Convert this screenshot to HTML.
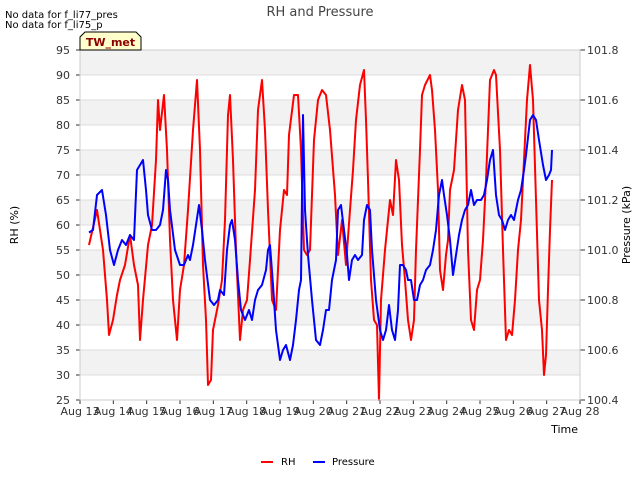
<!DOCTYPE html>
<html><head><meta charset="utf-8"><style>
body{margin:0;background:#fff;font-family:"Liberation Sans","DejaVu Sans",sans-serif;}
svg text{font-family:"DejaVu Sans","Liberation Sans",sans-serif;}
</style></head><body>
<svg id="chart" width="640" height="480" xmlns="http://www.w3.org/2000/svg">
<text x="5" y="18" font-size="10">No data for f_li77_pres</text>
<text x="5" y="28" font-size="10">No data for f_li75_p</text>
<text x="320" y="16" font-size="13" fill="#444" text-anchor="middle">RH and Pressure</text>
<g id="grid"></g>
<g id="series"></g>
<g id="axes"></g>
<path d="M80,50 L80,37 L85,32 L136,32 L141,37 L141,50 Z" fill="#ffffcc" stroke="#000" stroke-width="1"/>
<text x="110.5" y="46" font-size="11" font-weight="bold" fill="#8b0000" text-anchor="middle">TW_met</text>
<text transform="translate(18,225) rotate(-90)" font-size="11" text-anchor="middle">RH (%)</text>
<text transform="translate(630,225) rotate(-90)" font-size="11" text-anchor="middle">Pressure (kPa)</text>
<text x="578" y="433" font-size="11" text-anchor="end">Time</text>
<g>
<line x1="261" y1="462" x2="273" y2="462" stroke="#f00" stroke-width="2"/>
<text x="281" y="465" font-size="10">RH</text>
<line x1="313" y1="462" x2="325" y2="462" stroke="#00f" stroke-width="2"/>
<text x="332" y="465" font-size="10">Pressure</text>
</g>
</svg>
<script>
const xTickLabels=["Aug 13","Aug 14","Aug 15","Aug 16","Aug 17","Aug 18","Aug 19","Aug 20","Aug 21","Aug 22","Aug 23","Aug 24","Aug 25","Aug 26","Aug 27","Aug 28"];
const rhTicks=[25,30,35,40,45,50,55,60,65,70,75,80,85,90,95];
const pTicks=[100.4,100.6,100.8,101.0,101.2,101.4,101.6,101.8];
const rhData=[[0.27,56],[0.51,63],[0.69,55],[0.81,45],[0.87,38],[0.99,41],[1.11,46],[1.2,49],[1.35,52],[1.5,58],[1.62,52],[1.74,48],[1.8,37],[1.89,45],[2.04,56],[2.16,60],[2.28,73],[2.34,85],[2.4,79],[2.52,86],[2.61,75],[2.7,57],[2.79,45],[2.91,37],[3.0,47],[3.12,52],[3.24,63],[3.39,79],[3.51,89],[3.6,75],[3.69,52],[3.78,41],[3.84,28],[3.93,29],[3.99,39],[4.14,44],[4.26,49],[4.35,61],[4.44,82],[4.5,86],[4.59,73],[4.68,55],[4.8,37],[4.89,43],[5.01,45],[5.1,53],[5.25,67],[5.34,83],[5.46,89],[5.55,79],[5.64,63],[5.76,45],[5.88,43],[6.0,59],[6.12,67],[6.21,66],[6.27,78],[6.42,86],[6.54,86],[6.63,75],[6.72,55],[6.81,54],[6.9,55],[7.02,77],[7.14,85],[7.26,87],[7.38,86],[7.5,79],[7.65,66],[7.74,54],[7.86,61],[7.98,52],[8.1,63],[8.19,71],[8.28,81],[8.4,88],[8.52,91],[8.58,81],[8.64,69],[8.73,49],[8.82,41],[8.91,40],[8.97,25],[9.03,45],[9.15,55],[9.3,65],[9.39,62],[9.48,73],[9.57,69],[9.66,56],[9.75,49],[9.84,41],[9.93,37],[10.02,41],[10.08,55],[10.2,75],[10.26,86],[10.35,88],[10.5,90],[10.56,87],[10.65,79],[10.74,67],[10.8,51],[10.89,47],[10.98,54],[11.04,57],[11.1,67],[11.22,71],[11.34,83],[11.46,88],[11.55,85],[11.64,55],[11.73,41],[11.82,39],[11.91,47],[12.0,49],[12.09,57],[12.18,69],[12.3,89],[12.42,91],[12.48,90],[12.6,75],[12.69,55],[12.78,37],[12.87,39],[12.96,38],[13.05,45],[13.14,55],[13.23,61],[13.32,73],[13.41,85],[13.5,92],[13.59,85],[13.68,65],[13.77,45],[13.86,39],[13.92,30],[13.98,34],[14.04,47],[14.1,59],[14.16,69]];
const pData=[[0.27,101.07],[0.39,101.08],[0.51,101.22],[0.66,101.24],[0.78,101.14],[0.9,101.0],[1.02,100.94],[1.14,101.0],[1.26,101.04],[1.38,101.02],[1.5,101.06],[1.62,101.04],[1.71,101.32],[1.8,101.34],[1.89,101.36],[1.98,101.24],[2.04,101.14],[2.16,101.08],[2.28,101.08],[2.4,101.1],[2.49,101.16],[2.58,101.32],[2.64,101.28],[2.7,101.16],[2.85,101.0],[3.0,100.94],[3.12,100.94],[3.24,100.98],[3.3,100.96],[3.39,101.02],[3.48,101.1],[3.57,101.18],[3.66,101.08],[3.75,100.96],[3.9,100.8],[4.02,100.78],[4.14,100.8],[4.2,100.84],[4.32,100.82],[4.41,101.0],[4.5,101.1],[4.56,101.12],[4.65,101.04],[4.74,100.88],[4.83,100.76],[4.95,100.72],[5.07,100.76],[5.16,100.72],[5.25,100.8],[5.34,100.84],[5.46,100.86],[5.58,100.92],[5.64,101.0],[5.7,101.02],[5.79,100.86],[5.88,100.68],[6.0,100.56],[6.09,100.6],[6.18,100.62],[6.3,100.56],[6.39,100.62],[6.48,100.72],[6.57,100.84],[6.63,100.88],[6.69,101.54],[6.75,101.16],[6.84,100.98],[6.96,100.8],[7.08,100.64],[7.2,100.62],[7.29,100.68],[7.38,100.76],[7.47,100.76],[7.56,100.88],[7.68,100.96],[7.74,101.16],[7.83,101.18],[7.92,101.08],[8.01,100.98],[8.07,100.88],[8.16,100.96],[8.25,100.98],[8.34,100.96],[8.46,100.98],[8.52,101.12],[8.61,101.18],[8.7,101.16],[8.76,101.0],[8.88,100.8],[9.0,100.68],[9.09,100.64],[9.18,100.68],[9.27,100.78],[9.36,100.68],[9.45,100.64],[9.54,100.76],[9.6,100.94],[9.69,100.94],[9.78,100.92],[9.84,100.88],[9.93,100.88],[10.02,100.8],[10.11,100.8],[10.2,100.86],[10.29,100.88],[10.38,100.92],[10.5,100.94],[10.59,101.0],[10.68,101.08],[10.77,101.22],[10.86,101.28],[10.92,101.22],[11.01,101.14],[11.1,101.04],[11.19,100.9],[11.28,100.98],[11.37,101.06],[11.46,101.12],[11.55,101.16],[11.64,101.18],[11.73,101.24],[11.82,101.18],[11.91,101.2],[12.03,101.2],[12.12,101.22],[12.21,101.28],[12.3,101.36],[12.39,101.4],[12.48,101.22],[12.57,101.14],[12.66,101.12],[12.75,101.08],[12.84,101.12],[12.93,101.14],[13.02,101.12],[13.14,101.2],[13.23,101.24],[13.32,101.32],[13.38,101.38],[13.5,101.52],[13.59,101.54],[13.68,101.52],[13.77,101.44],[13.89,101.34],[13.98,101.28],[14.07,101.3],[14.13,101.32],[14.16,101.4]];

const L=80,R=580,T=50,B=400;
const xs=d=>L+(d/15)*(R-L);
const yL=v=>B-(v-25)/(95-25)*(B-T);
const yR=v=>B-(v-100.4)/(101.8-100.4)*(B-T);
const NS="http://www.w3.org/2000/svg";
function mk(tag,attrs,parent){const e=document.createElementNS(NS,tag);for(const k in attrs)e.setAttribute(k,attrs[k]);parent.appendChild(e);return e;}
const grid=document.getElementById('grid'),axes=document.getElementById('axes'),series=document.getElementById('series');
for(let i=0;i<rhTicks.length-1;i++){
  if((rhTicks.length-2-i)%2===0){
    const r=mk('rect',{x:L,y:yL(rhTicks[i+1]),width:R-L,height:yL(rhTicks[i])-yL(rhTicks[i+1]),fill:'#f2f2f2'},grid);
    
    
  }
}
rhTicks.forEach(v=>{
  const g=mk('line',{x1:L,x2:R,y1:yL(v),y2:yL(v),stroke:'#dcdcdc','stroke-width':1},grid);
  
  
  const tk=mk('line',{x1:L-4,x2:L,y1:yL(v),y2:yL(v),stroke:'#333'},axes);
  
  
  const t=mk('text',{x:L-10,y:yL(v)+4,'font-size':11,'text-anchor':'end',fill:'#333'},axes);
  t.textContent=v;
  
  
});
pTicks.forEach(v=>{
  const tk=mk('line',{x1:R,x2:R+5,y1:yR(v),y2:yR(v),stroke:'#333'},axes);
  
  
  const t=mk('text',{x:R+7,y:yR(v)+4,'font-size':11,fill:'#333'},axes);
  t.textContent=v.toFixed(1);
  
  
});
xTickLabels.forEach((s,i)=>{
  const tk=mk('line',{x1:xs(i),x2:xs(i),y1:B,y2:B+4,stroke:'#333'},axes);
  
  
  const t=mk('text',{x:xs(i),y:B+15,'font-size':11,'text-anchor':'middle',fill:'#333'},axes);
  t.textContent=s;
  
  
});
const ax=mk('rect',{x:L,y:T,width:R-L,height:B-T,fill:'none',stroke:'#ccc'},axes);


const rhLine=mk('polyline',{points:rhData.map(p=>xs(p[0]).toFixed(1)+','+yL(p[1]).toFixed(1)).join(' '),fill:'none',stroke:'#f00','stroke-width':2,'stroke-linejoin':'round'},series);


const pLine=mk('polyline',{points:pData.map(p=>xs(p[0]).toFixed(1)+','+yR(p[1]).toFixed(1)).join(' '),fill:'none',stroke:'#00f','stroke-width':2,'stroke-linejoin':'round'},series);


</script>
</body></html>
